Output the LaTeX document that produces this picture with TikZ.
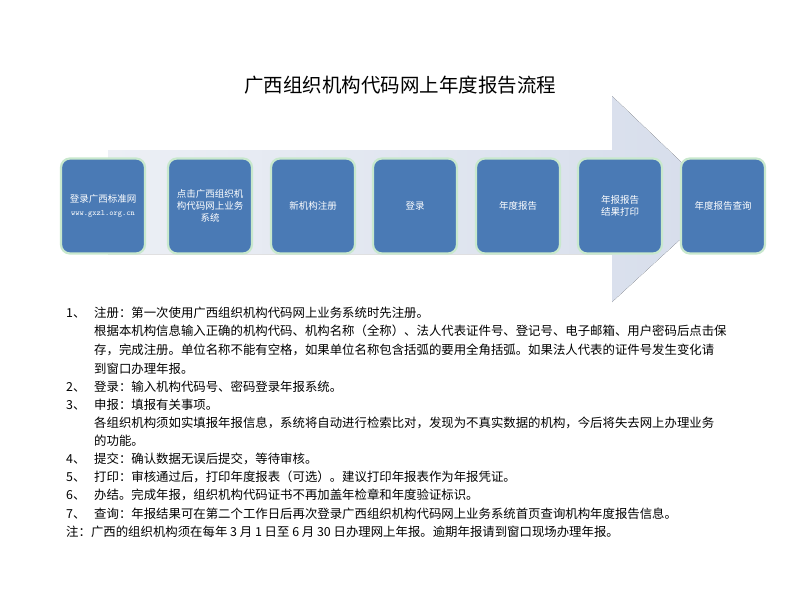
\documentclass[tikz,border=0pt]{standalone}
\usepackage{fontspec}
\setmainfont{Noto Sans CJK SC}
\begin{document}
\begin{tikzpicture}[x=1pt,y=-1pt,
  stepbox/.style={draw={rgb,255:red,200;green,232;blue,205}, line width=2.2pt, fill={rgb,255:red,74;green,122;blue,181}, rounded corners=9pt, minimum width=84pt, minimum height=95pt, text=white, font=\fontsize{9.5}{12}\selectfont, align=center, inner sep=1pt},
  notes/.style={anchor=west, font=\fontsize{12.4}{14}\selectfont, inner sep=0pt}]
\useasboundingbox (0,0) rectangle (800,600);
\fill[white] (0,0) rectangle (800,600);
\node (title) at (400,85) {\fontsize{19.5}{22}\selectfont 广西组织机构代码网上年度报告流程};
\fill[left color={rgb,255:red,236;green,239;blue,245}, right color={rgb,255:red,214;green,221;blue,235}] (108,150) -- (612,150) -- (612,96) -- (722,201) -- (612,302) -- (612,254) -- (108,254) -- cycle;
\node[stepbox] (b1) at (103,206) {登录广西标准网\\[1pt]{\ttfamily\fontsize{8}{9}\selectfont www.gxzl.org.cn}};
\node[stepbox] (b2) at (210,206) {点击广西组织机\\构代码网上业务\\系统};
\node[stepbox] (b3) at (313,206) {新机构注册};
\node[stepbox] (b4) at (415,206) {登录};
\node[stepbox] (b5) at (518,206) {年度报告};
\node[stepbox] (b6) at (620,206) {年报报告\\结果打印};
\node[stepbox] (b7) at (723,206) {年度报告查询};
\foreach \n/\y in {1、/313,2、/387,3、/405,4、/459,5、/477,6、/495,7、/514}
  \node[notes] at (66,\y) {\n};
\node[notes] (t1) at (94,313) {注册：第一次使用广西组织机构代码网上业务系统时先注册。};
\node[notes] (t1b) at (94,331) {根据本机构信息输入正确的机构代码、机构名称（全称）、法人代表证件号、登记号、电子邮箱、用户密码后点击保};
\node[notes] (t1c) at (94,350) {存，完成注册。单位名称不能有空格，如果单位名称包含括弧的要用全角括弧。如果法人代表的证件号发生变化请};
\node[notes] (t1d) at (94,369) {到窗口办理年报。};
\node[notes] (t2) at (94,387) {登录：输入机构代码号、密码登录年报系统。};
\node[notes] (t3) at (94,405) {申报：填报有关事项。};
\node[notes] (t3b) at (94,423) {各组织机构须如实填报年报信息，系统将自动进行检索比对，发现为不真实数据的机构，今后将失去网上办理业务};
\node[notes] (t3c) at (94,441) {的功能。};
\node[notes] (t4) at (94,459) {提交：确认数据无误后提交，等待审核。};
\node[notes] (t5) at (94,477) {打印：审核通过后，打印年度报表（可选）。建议打印年报表作为年报凭证。};
\node[notes] (t6) at (94,495) {办结。完成年报，组织机构代码证书不再加盖年检章和年度验证标识。};
\node[notes] (t7) at (94,514) {查询：年报结果可在第二个工作日后再次登录广西组织机构代码网上业务系统首页查询机构年度报告信息。};
\node[notes] (t8) at (66,532) {注：广西的组织机构须在每年 3 月 1 日至 6 月 30 日办理网上年报。逾期年报请到窗口现场办理年报。};
\end{tikzpicture}
\end{document}
